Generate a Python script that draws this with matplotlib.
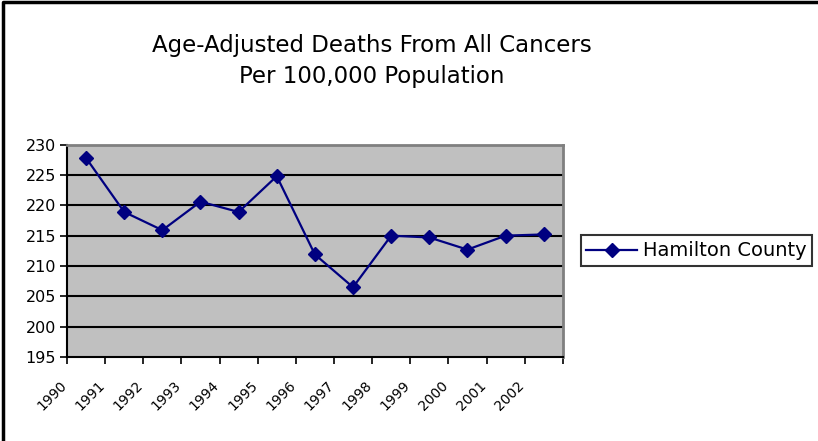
import matplotlib
matplotlib.use("Agg")
import matplotlib.pyplot as plt
import matplotlib.transforms as mtransforms
from matplotlib.lines import Line2D
import numpy as np

years = ["1990", "1991", "1992", "1993", "1994", "1995", "1996",
         "1997", "1998", "1999", "2000", "2001", "2002"]
deaths = [227.8, 218.9, 215.9, 220.6, 218.9, 224.8, 211.9,
          206.5, 215.0, 214.7, 212.7, 215.0, 215.2]
series_name = "Hamilton County"
title = "Age-Adjusted Deaths From All Cancers\nPer 100,000 Population"
yticks = [195, 200, 205, 210, 215, 220, 225, 230]

navy = "#000080"

fig = plt.figure(figsize=(8.18, 4.41), dpi=100)
fig.patch.set_facecolor("white")
# figure border (only top and left visible in the reference)
fig.lines.append(Line2D([0.0035, 0.0035, 1.0], [0.0, 0.9955, 0.9955],
                        transform=fig.transFigure, color="black", linewidth=2.5))

ax = fig.add_axes([0.0819, 0.1905, 0.6061, 0.4815])
ax.set_facecolor("#c0c0c0")

x = np.arange(len(years))
ax.set_xlim(-0.5, len(years) - 0.5)
ax.set_ylim(195, 230)

for yv in yticks[1:-1]:
    ax.axhline(yv, color="black", linewidth=1.5, zorder=1)

ax.plot(x, deaths, color=navy, linewidth=1.6, marker="D", markersize=7,
        markerfacecolor=navy, markeredgecolor=navy, label=series_name, zorder=3)

ax.set_yticks(yticks)
ax.set_yticklabels([str(v) for v in yticks], fontsize=11.5)
ax.tick_params(axis="y", direction="out", length=5, width=1.2, pad=3)

bounds = np.arange(len(years) + 1) - 0.5
ax.set_xticks(bounds)
ax.set_xticklabels(years + [""], fontsize=10, rotation=45, ha="right",
                   va="center", rotation_mode="anchor")
ax.tick_params(axis="x", direction="out", length=5, width=1.2, pad=14)
offset = mtransforms.ScaledTranslation(-2.5 / 100, 0, fig.dpi_scale_trans)
for lbl in ax.get_xticklabels():
    lbl.set_transform(lbl.get_transform() + offset)

for side in ["left", "bottom"]:
    ax.spines[side].set_color("black")
    ax.spines[side].set_linewidth(1.5)
for side in ["top", "right"]:
    ax.spines[side].set_color("#808080")
    ax.spines[side].set_linewidth(2)

fig.text(0.455, 0.862, title, ha="center", va="center", fontsize=16.5,
         linespacing=1.45)

leg = ax.legend(loc="center left", bbox_to_anchor=(1.036, 0.5), fontsize=14,
                frameon=True, fancybox=False, borderpad=0.3, handlelength=2.6,
                handletextpad=0.3, borderaxespad=0)
leg.get_frame().set_edgecolor("black")
leg.get_frame().set_linewidth(1.5)

fig.savefig("out.png", dpi=100, facecolor="white")
